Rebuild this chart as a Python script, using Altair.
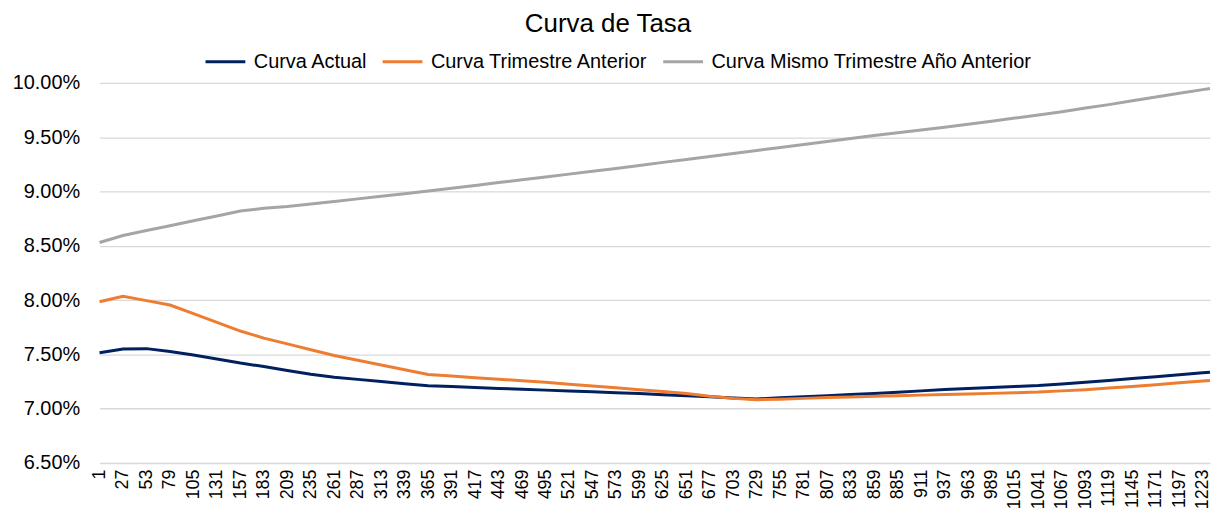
import altair as alt
import pandas as pd

# Days shown as tick labels on the category axis
tick_days = [1, 27, 53, 79, 105, 131, 157, 183, 209, 235, 261, 287, 313, 339, 365,
             391, 417, 443, 469, 495, 521, 547, 573, 599, 625, 651, 677, 703, 729,
             755, 781, 807, 833, 859, 885, 911, 937, 963, 989, 1015, 1041, 1067,
             1093, 1119, 1145, 1171, 1197, 1223]
# sampled days (ticks + last plotted day)
days = tick_days + [1231]

series_names = ["Curva Actual", "Curva Trimestre Anterior", "Curva Mismo Trimestre Año Anterior"]
series_colors = ["#002060", "#ED7D31", "#A5A5A5"]

# rates in percent, read at each sampled day
curva_actual = [7.515, 7.550, 7.553, 7.527, 7.495, 7.458, 7.420, 7.388, 7.352, 7.318,
                7.290, 7.270, 7.250, 7.230, 7.212,
                7.204, 7.196, 7.187, 7.179, 7.171, 7.163, 7.155, 7.147, 7.139, 7.129,
                7.119, 7.109, 7.099, 7.090,
                7.100, 7.110, 7.120, 7.130, 7.140, 7.152, 7.164, 7.176, 7.186, 7.195,
                7.205, 7.214, 7.228, 7.244, 7.260, 7.277, 7.294, 7.312, 7.330, 7.336]
curva_trim_anterior = [7.985, 8.035, 7.995, 7.955, 7.875, 7.795, 7.715, 7.650, 7.597, 7.543,
                       7.490, 7.446, 7.402, 7.358, 7.315,
                       7.300, 7.285, 7.272, 7.258, 7.243, 7.226, 7.210, 7.193, 7.175, 7.158,
                       7.140, 7.115, 7.095, 7.083,
                       7.088, 7.095, 7.102, 7.108, 7.114, 7.120, 7.125, 7.130, 7.135, 7.141,
                       7.147, 7.153, 7.164, 7.175, 7.190, 7.204, 7.220, 7.238, 7.255, 7.260]
curva_anio_anterior = [8.530, 8.595, 8.640, 8.685, 8.730, 8.775, 8.820, 8.845, 8.862, 8.885,
                       8.908, 8.932, 8.956, 8.980, 9.005,
                       9.030, 9.056, 9.082, 9.108, 9.134, 9.160, 9.186, 9.212, 9.240, 9.268,
                       9.295, 9.322, 9.350, 9.378,
                       9.405, 9.432, 9.460, 9.488, 9.515, 9.540, 9.566, 9.592, 9.620, 9.647,
                       9.676, 9.705, 9.735, 9.768, 9.800, 9.835, 9.870, 9.905, 9.938, 9.948]

y_ticks = [6.5, 7.0, 7.5, 8.0, 8.5, 9.0, 9.5, 10.0]

rows = []
for name, vals in zip(series_names, [curva_actual, curva_trim_anterior, curva_anio_anterior]):
    for d, v in zip(days, vals):
        rows.append({"dia": d, "tasa": v, "serie": name})
df = pd.DataFrame(rows)

FONT = "Liberation Sans"

chart = alt.Chart(df).mark_line(strokeWidth=3).encode(
    x=alt.X("dia:Q",
            scale=alt.Scale(domain=[1, 1231], nice=False, zero=False),
            axis=alt.Axis(values=tick_days, format="d", labelAngle=270, grid=False,
                          ticks=False, domain=False, title=None, labelFontSize=18,
                          labelFont=FONT, labelColor="#000000", labelPadding=6,
                          labelOverlap=False, labelFlush=False)),
    y=alt.Y("tasa:Q",
            scale=alt.Scale(domain=[6.5, 10.0], nice=False, zero=False),
            axis=alt.Axis(values=y_ticks, labelExpr="format(datum.value, '.2f') + '%'",
                          grid=True, gridColor="#D9D9D9", gridWidth=1.3, ticks=False,
                          domain=False, title=None, labelFontSize=20, labelFont=FONT,
                          labelColor="#000000", labelPadding=20)),
    color=alt.Color("serie:N",
                    scale=alt.Scale(domain=series_names, range=series_colors),
                    legend=alt.Legend(orient="none", legendX=105, legendY=-43,
                                      direction="horizontal", title=None,
                                      symbolType="stroke", symbolSize=1600,
                                      symbolStrokeWidth=3, labelFontSize=20,
                                      labelFont=FONT, labelColor="#000000",
                                      labelOffset=7, columnPadding=8, labelLimit=500)),
).properties(
    width=1116,
    height=382,
    autosize=alt.AutoSizeParams(type="none"),
    padding={"left": 92, "top": 74, "right": 2, "bottom": 50},
    title=alt.TitleParams("Curva de Tasa", fontSize=26, font=FONT, fontWeight="normal",
                          anchor="middle", dx=-47, offset=3, color="#000000"),
).configure_view(stroke=None)

chart.save("out.html", embed_options={"renderer": "svg", "actions": False})
